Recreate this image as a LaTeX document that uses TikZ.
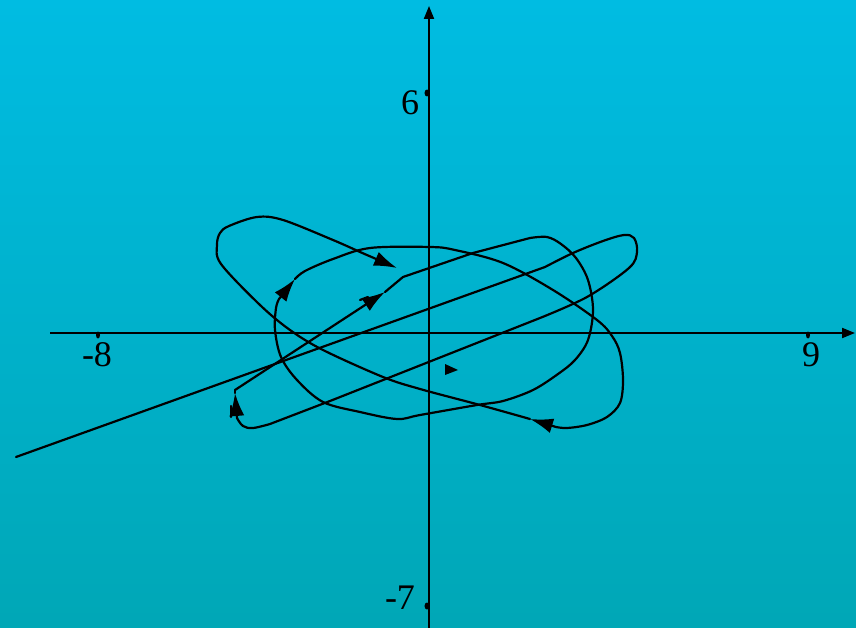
\documentclass[tikz,border=0pt]{standalone}
\usepackage{fontspec}
\setmainfont{Liberation Serif}
\usetikzlibrary{arrows.meta}
\definecolor{bgtop}{RGB}{0,188,226}
\definecolor{bgbot}{RGB}{0,167,182}
\begin{document}
\begin{tikzpicture}[x=1pt,y=-1pt,
  curve/.style={line width=2.2pt,line join=round,line cap=round},
  tipped/.style={curve,-{Latex[length=23pt,width=15pt]}},
  axis/.style={line width=2pt,-{Triangle[length=13pt,width=10pt]}},
  lbl/.style={font=\fontsize{36}{36}\selectfont,inner sep=0pt},
  tickdot/.style={fill=black,draw=none}]
\shade[top color=bgtop,bottom color=bgbot] (0,0) rectangle (856,628);
\useasboundingbox (0,0) rectangle (856,628);
% axes
\coordinate (xl) at (50,333);
\coordinate (xr) at (855,333);
\coordinate (yb) at (429,628);
\coordinate (yt) at (429,6);
\draw[axis] (xl) -- (xr);
\draw[axis] (yb) -- (yt);
% tick dots
\fill[tickdot] (98,335) ellipse (2pt and 3.5pt);
\fill[tickdot] (808,335) ellipse (2pt and 3.5pt);
\fill[tickdot] (427,93) ellipse (2.5pt and 3.5pt);
\fill[tickdot] (427,606) ellipse (2.5pt and 3.5pt);
% labels
\node[lbl] (l6) at (410,103) {6};
\node[lbl] (lm7) at (400,598) {-7};
\node[lbl] (lm8) at (97,355) {-8};
\node[lbl] (l9) at (811,355) {9};
% trajectory
\draw[curve] (16,457) -- (545,267);
\draw[tipped] plot[smooth,tension=0.55] coordinates {(545,267) (573,253) (603,241) (624,235) (634,238) (637,252) (629,268) (587,297) (540,318)}
  -- (330,401) -- (270,424)
  plot[smooth,tension=0.6] coordinates {(270,424) (253,428) (243,426) (237,418)} -- (235,393);
\draw[curve] (231,406) -- (231,417);
\draw[curve] (235,393) -- (235,390);
\draw[tipped] (235,390) -- (385,292);
\draw[curve] (360,300) -- (368,297);
\draw[tipped] (385,292) -- (403,277) -- (473,253) -- (530,238)
  plot[smooth,tension=0.55] coordinates {(530,238) (547,237) (561,244) (576,258) (588,280) (593,310) (588,340) (575,360) (558,374) (533,390) (503,401) (477,405) (420,415) (397,419) (360,412) (323,402) (297,380) (281,357) (275,330) (276,308) (279,299)} -- (295,279);
\draw[tipped] plot[smooth,tension=0.55] coordinates {(295,279) (305,271) (333,259) (370,248) (430,247) (455,250) (503,263) (553,290) (597,320) (612,336) (620,353) (623,380) (620,403) (607,417) (587,425) (567,428) (556,427)} -- (530,419);
\draw[tipped] plot[smooth,tension=0.55] coordinates {(530,419) (480,405) (420,389) (383,377) (323,350) (290,330) (260,305) (221,264) (217,245) (220,233) (229,226) (257,217) (283,220) (333,240) (360,252)} -- (397,268);
% lone arrowhead
\fill (445,364) -- (458,370) -- (445,375) -- cycle;
\end{tikzpicture}
\end{document}
